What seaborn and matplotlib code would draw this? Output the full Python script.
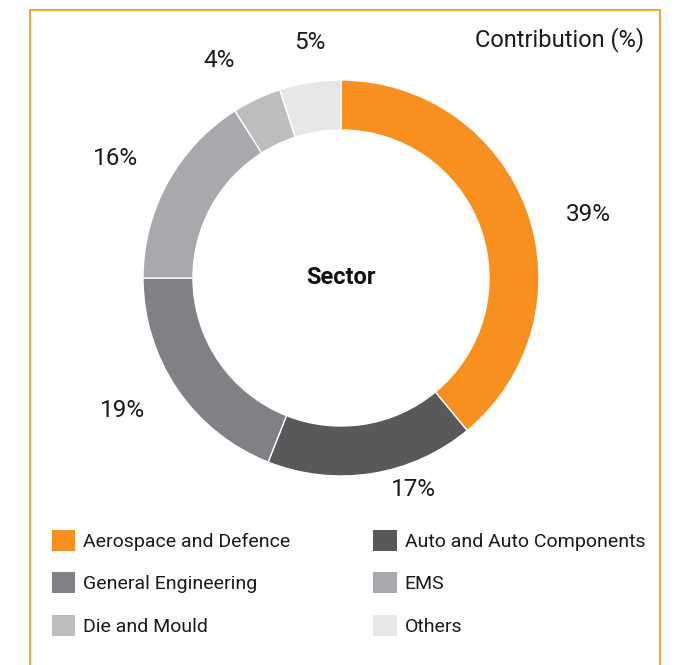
import numpy as np
import matplotlib
matplotlib.use("Agg")
import matplotlib.pyplot as plt
import matplotlib.patches as mpatches
import seaborn as sns

# data
sectors = ["Aerospace and Defence", "Auto and Auto Components", "General Engineering",
           "EMS", "Die and Mould", "Others"]
shares = [39, 17, 19, 16, 4, 5]
colors = ["#f7901e", "#58595b", "#808184", "#a7a9ac", "#bcbec0", "#e6e7e8"]

# label placement tweaks (distance in radii, angle nudge in degrees)
label_dist = [1.29, 1.13, 1.29, 1.29, 1.26, 1.2]
label_nudge = [-5.5, 10, -3, 1, 4, -1.5]

sns.set_theme(style="white")
plt.rcParams["font.family"] = ["Roboto", "DejaVu Sans"]

fig = plt.figure(figsize=(6.78, 6.65), dpi=100)
W, H = 678, 665

# orange frame
frame = mpatches.Rectangle((30 / W, -0.05), 630 / W, 1.05 - 10 / H, transform=fig.transFigure,
                           fill=False, edgecolor="#f7901e", linewidth=1.2)
fig.patches.append(frame)

# donut axes: center (341, 278) px, radius 198 px
cx, cy, R, S = 341, 278, 198, 300
ax = fig.add_axes([(cx - S) / W, (H - cy - S) / H, 2 * S / W, 2 * S / H])

wedges, _ = ax.pie(shares, colors=colors, startangle=90, counterclock=False, radius=1.0,
                   wedgeprops=dict(width=50 / R, edgecolor="white", linewidth=1))
lim = S / R
ax.set_xlim(-lim, lim)
ax.set_ylim(-lim, lim)
ax.set_aspect("equal")
ax.axis("off")

for w, val, d, nd in zip(wedges, shares, label_dist, label_nudge):
    ang = np.deg2rad((w.theta1 + w.theta2) / 2 + nd)
    ax.text(d * np.cos(ang), d * np.sin(ang), f"{val}%", ha="center", va="center",
            fontsize=17.5, color="#1a1a1a")

ax.text(0, 0, "Sector", ha="center", va="center", fontsize=17, fontweight="bold", color="#111111")

fig.text(644 / W, 1 - 40 / H, "Contribution (%)", ha="right", va="center", fontsize=17,
         color="#1a1a1a")

# legend, column-major order
handles = [mpatches.Patch(facecolor=c, edgecolor="none") for c in colors]
order = [0, 2, 4, 1, 3, 5]
fig.legend([handles[i] for i in order], [sectors[i] for i in order], ncol=2,
           loc="upper left", bbox_to_anchor=(34 / W, 1 - 512 / H), frameon=False,
           fontsize=14, handlelength=1.2, handleheight=1.3, handletextpad=0.4,
           columnspacing=4.3, labelspacing=1.1, labelcolor="#1a1a1a")

fig.savefig("out.png", dpi=100)
